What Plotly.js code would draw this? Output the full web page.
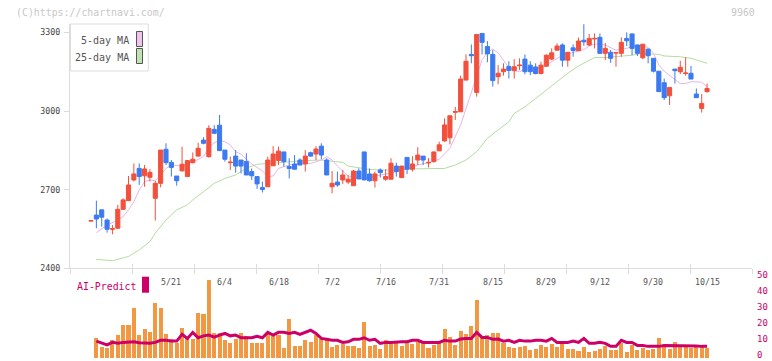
<!DOCTYPE html>
<html><head><meta charset="utf-8">
<script src="https://cdn.plot.ly/plotly-3.0.1.min.js"></script>
<style>html,body{margin:0;padding:0;background:#fff;}#chart{width:772px;height:361px;}</style>
</head><body><div id="chart"></div>
<script>
// ---- data (candle number 1..116, last = 10/15) ----
const openP = [
2580,2603,2623,2584,2549,2553,2625,2658,2737,2781,
2753,2747,2667,2724,2854,2804,2752,2772,2750,2803,
2828,2889,2826,2930,2946,2851,2803,2828,2813,2807,
2769,2750,2708,2711,2791,2811,2844,2788,2798,2813,
2798,2841,2836,2866,2813,2711,2729,2737,2729,2715,
2771,2844,2760,2734,2775,2740,2740,2790,2746,2823,
2778,2813,2828,2802,2807,2848,2886,2898,2995,2997,
3118,3216,3071,3296,3246,3216,3131,3150,3170,3154,
3173,3198,3175,3168,3143,3171,3198,3232,3252,3194,
3241,3230,3270,3252,3275,3281,3220,3224,3221,3220,
3277,3294,3252,3203,3236,3201,3152,3108,3058,3160,
3150,3143,3144,3065,3010,3074];
const highP = [
2583,2658,2623,2590,2565,2642,2667,2752,2800,2800,
2794,2778,2733,2851,2877,2813,2752,2864,2813,2842,
2879,2900,2946,2946,2985,2851,2826,2851,2813,2839,
2781,2750,2731,2826,2866,2864,2844,2820,2832,2820,
2851,2845,2866,2877,2820,2771,2769,2775,2756,2775,
2781,2844,2781,2769,2781,2778,2820,2803,2790,2823,
2828,2862,2828,2820,2844,2883,2972,2982,3016,3135,
3216,3254,3292,3296,3267,3232,3175,3182,3190,3198,
3201,3216,3190,3182,3188,3216,3239,3258,3258,3224,
3254,3280,3331,3294,3296,3296,3260,3233,3224,3281,
3300,3296,3252,3255,3239,3201,3152,3124,3090,3160,
3192,3205,3172,3086,3065,3105];
const lowP = [
2579,2553,2559,2536,2530,2549,2623,2658,2731,2718,
2711,2731,2582,2709,2794,2750,2715,2769,2750,2800,
2826,2873,2822,2912,2849,2807,2775,2765,2762,2756,
2737,2703,2689,2711,2791,2794,2788,2743,2778,2794,
2769,2826,2813,2816,2756,2686,2711,2722,2722,2715,
2741,2737,2731,2708,2746,2734,2740,2750,2746,2759,
2769,2794,2794,2785,2803,2848,2883,2873,2966,2997,
3118,3182,3055,3216,3186,3093,3102,3135,3124,3124,
3156,3140,3137,3140,3140,3169,3194,3232,3169,3169,
3207,3230,3249,3248,3239,3220,3194,3184,3169,3207,
3248,3213,3210,3198,3182,3147,3074,3042,3023,3105,
3141,3135,3122,3051,2994,3070];
const closeP = [
2582,2588,2595,2549,2551,2625,2661,2718,2760,2750,
2779,2766,2724,2851,2803,2785,2734,2797,2811,2816,
2858,2877,2934,2915,2849,2816,2805,2790,2790,2756,
2753,2722,2701,2813,2836,2847,2807,2781,2778,2794,
2828,2828,2855,2832,2756,2724,2718,2756,2740,2771,
2741,2737,2734,2760,2765,2750,2801,2769,2790,2778,
2798,2832,2813,2804,2844,2871,2947,2982,2998,3122,
3190,3211,3292,3262,3218,3116,3144,3160,3155,3169,
3175,3150,3150,3143,3175,3213,3222,3248,3194,3224,
3231,3267,3264,3277,3277,3220,3239,3201,3223,3262,
3268,3239,3220,3255,3211,3152,3074,3051,3090,3154,
3167,3145,3122,3051,3029,3086];
const volume = [
null,12.3,6.7,6.1,11.3,14.4,20.4,20.4,31.1,14.4,
17.9,16.1,34.8,31.1,14.8,11.7,9.2,18.6,12.3,11.7,
28.1,27.5,49.2,15.4,15.4,11.1,9.2,11.7,15.4,13.6,
9.2,9.2,9.2,14.8,13.6,14.4,6.1,24.2,7.3,7.3,
11.1,9.8,14.4,11.7,11.1,6.7,7.9,8.6,7.3,7.3,
6.1,22.9,7.3,7.9,5.4,11.1,8.6,9.2,7.3,9.2,
8.6,10.2,9.2,6.1,7.9,9.2,17.9,12.9,7.9,16.7,
14.8,19.8,36.7,12.9,14.2,15.4,15.4,9.2,6.7,6.1,
6.7,7.3,4.8,5.4,7.9,6.7,8.6,6.7,9.2,5.4,
5.4,4.2,6.7,3.6,4.2,5.4,7.3,4.8,4.8,9.2,
3.6,7.9,4.8,6.1,4.8,5.4,12.3,6.7,5.4,9.8,
6.7,6.7,6.1,6.7,6.7,6.1];
const aiPredict = [
null,10.6,9.2,8.2,9.8,9.2,9.8,10.2,10.2,9.6,
9.6,9.2,9.8,11.1,11.1,10.6,10.6,14.8,12.3,16.1,
12.7,13.9,14.4,13.1,14.4,15.4,13.9,14.4,12.7,12.9,
12.7,13.6,12.7,16.1,14.4,16.1,16.1,15.4,16.1,14.8,
16.1,17.4,15.4,12.3,11.7,11.1,11.1,9.8,10.2,11.7,
11.7,12.7,11.1,11.7,9.2,9.8,9.8,10.2,10.2,10.2,
11.1,11.1,9.8,9.8,9.8,9.8,11.1,10.6,10.6,11.9,
12.3,12.3,16.1,12.9,12.9,11.7,11.9,10.6,11.1,9.8,
11.1,10.6,10.6,11.1,11.1,10.6,12.3,9.8,9.8,9.8,
10.6,9.8,12.3,9.2,9.2,9.8,9.2,7.3,7.3,11.1,
9.8,9.8,7.9,7.9,7.3,7.3,7.3,7.9,7.9,7.9,
7.9,7.9,7.9,7.6,7.3,7.3];
// moving averages at these candle numbers
const ma5Day = [2,4,6,7,8,9,10,11,12,13, 14,15,16,18,20,22,23,24,25,26,
  27,28,29,31,33,34,35,36,38,40, 42,44,45,46,47,49,51,53,55,57,
  59,60,62,64,66,68,70,71,72,73, 74,75,76,77,78,79,80,81,82,84,
  85,86,87,89,90,91,93,94,95,97, 99,101,103,105,106,107,108,110,111,112,
  113,115,116];
const ma5Val = [2536,2565,2584,2597,2623,2654,2699,2731,2737,2734, 2756,2781,2794,2790,2805,2826,2861,2879,2887,2883,
  2870,2845,2835,2798,2772,2750,2752,2781,2794,2800, 2800,2813,2826,2813,2790,2752,2741,2746,2756,2763,
  2775,2780,2794,2803,2816,2858,2947,3010,3065,3135, 3195,3225,3236,3222,3195,3165,3155,3150,3160,3163,
  3163,3175,3188,3213,3218,3224,3234,3248,3256,3252, 3232,3239,3252,3243,3220,3175,3152,3120,3105,3105,
  3112,3110,3093];
const ma25Day = [2,5,8,10,12,13,15,17,19,20, 22,24,26,28,30,32,35,38,41,44,
  48,49,53,55,57,60,64,67,69,71, 73,75,77,79,80,82,84,86,88,90,
  92,94,95,97,99,102,104,107,108,111, 113,115,116];
const ma25Val = [2434,2429,2445,2470,2502,2534,2584,2623,2642,2661, 2692,2724,2743,2756,2782,2797,2801,2807,2811,2813,
  2804,2790,2777,2775,2775,2779,2780,2781,2794,2813, 2845,2896,2928,2959,2991,3016,3048,3080,3112,3144,
  3172,3194,3204,3204,3207,3213,3220,3216,3210,3207, 3201,3188,3182];
const dateTickDay = [16,26,36,46,56,66,76,86,96,106,116];
const dateTickText = ['5/21','6/4','6/18','7/2','7/16','7/31','8/15','8/29','9/12','9/30','10/15'];
const priceTicks = [2400,2700,3000,3300];
const aiTicks = [0,10,20,30,40,50];
const gridTicks = [0,1,2,3,4,5,6,7,8,9,10,11];

// ---- layout helpers ----
const W = 772, H = 361, ML = 70, MR = 20, MT = 24, MB = 3;
const PW = W - ML - MR, PH = H - MT - MB;
const fx = px => (px - ML) / PW;
const fy = py => (H - MB - py) / PH;
const days = closeP.map((_, i) => i + 1);
const xr = [1 - 21 / 5.357, 1 + 661 / 5.357];
const MONO = 'DejaVu Sans Mono, monospace';
const RED = '#f2503c', BLUE = '#3c7af0', ORANGE = '#f39842', MAG = '#cc0066';

const traces = [
  {type:'scatter', mode:'lines', x:ma25Day, y:ma25Val, xaxis:'x', yaxis:'y',
   line:{color:'#b4dca0', width:1}, hoverinfo:'skip'},
  {type:'scatter', mode:'lines', x:ma5Day, y:ma5Val, xaxis:'x', yaxis:'y',
   line:{color:'#e8b4e8', width:1}, hoverinfo:'skip'},
  {type:'candlestick', x:days, open:openP, high:highP, low:lowP, close:closeP,
   xaxis:'x', yaxis:'y3',
   increasing:{line:{color:RED, width:1}, fillcolor:RED},
   decreasing:{line:{color:BLUE, width:1}, fillcolor:BLUE}, hoverinfo:'skip'},
  {type:'bar', x:days, y:volume, xaxis:'x2', yaxis:'y2', width:0.75,
   marker:{color:ORANGE, line:{width:0}}, hoverinfo:'skip'},
  {type:'scatter', mode:'lines', x:days, y:aiPredict, xaxis:'x2', yaxis:'y2',
   line:{color:MAG, width:3}, hoverinfo:'skip'},
  {type:'scatter', x:[], y:[], xaxis:'x3', yaxis:'y'},
  {type:'scatter', x:[], y:[], xaxis:'x4', yaxis:'y'}
];

const annotations = [
  {text:'(C)https://chartnavi.com/', xref:'paper', yref:'paper', x:fx(14), y:fy(12.5),
   xanchor:'left', yanchor:'middle', showarrow:false, font:{family:MONO, size:9.9, color:'#c8c8c8'}},
  {text:'9960', xref:'paper', yref:'paper', x:fx(757), y:fy(12.5),
   xanchor:'right', yanchor:'middle', showarrow:false, font:{family:MONO, size:9.9, color:'#c8c8c8'}},
  {text:'5-day MA', xref:'paper', yref:'paper', x:fx(131), y:fy(40),
   xanchor:'right', yanchor:'middle', showarrow:false, font:{family:MONO, size:10, color:'#555'}},
  {text:'25-day MA', xref:'paper', yref:'paper', x:fx(131), y:fy(57.3),
   xanchor:'right', yanchor:'middle', showarrow:false, font:{family:MONO, size:10, color:'#555'}},
  {text:'AI-Predict', xref:'paper', yref:'paper', x:fx(75), y:fy(286),
   xanchor:'left', yanchor:'middle', showarrow:false, font:{family:MONO, size:9.9, color:MAG}}
];
dateTickDay.forEach((d, j) => annotations.push({
  text:dateTickText[j], xref:'x', yref:'paper', x:d, y:fy(282), xanchor:'center', yanchor:'middle',
  showarrow:false, font:{family:MONO, size:8.3, color:'#555'}}));

const shapes = [
  {type:'rect', xref:'paper', yref:'paper', x0:fx(70.5), x1:fx(148.3), y0:fy(71), y1:fy(24),
   line:{color:'#dddddd', width:1}, fillcolor:'rgba(255,255,255,0.9)'},
  {type:'rect', xref:'paper', yref:'paper', x0:fx(136.5), x1:fx(142.5), y0:fy(46.5), y1:fy(31.5),
   line:{color:'#555', width:1}, fillcolor:'#f0c4f0'},
  {type:'rect', xref:'paper', yref:'paper', x0:fx(136.5), x1:fx(142.5), y0:fy(63.5), y1:fy(48.5),
   line:{color:'#555', width:1}, fillcolor:'#c0e2b0'},
  {type:'rect', xref:'paper', yref:'paper', x0:fx(142), x1:fx(149), y0:fy(292.7), y1:fy(276.7),
   line:{width:0}, fillcolor:MAG}
];

const layout = {
  width:W, height:H, margin:{l:ML, r:MR, t:MT, b:MB, pad:0},
  paper_bgcolor:'#fff', plot_bgcolor:'rgba(0,0,0,0)', showlegend:false,
  boxgap:0.15, boxgroupgap:0.1, bargap:0,
  font:{family:MONO},
  xaxis:{domain:[0,1], range:xr, anchor:'y', showticklabels:false, ticks:'', showgrid:false,
    zeroline:false, showline:true, linecolor:'#dcdcdc', linewidth:1, rangeslider:{visible:false}, fixedrange:true},
  yaxis:{domain:[fy(268.3),1], range:[2400,3332], anchor:'x', tickvals:priceTicks,
    ticktext:priceTicks.map(String), ticks:'outside', ticklen:5, tickcolor:'#dcdcdc',
    showline:true, linecolor:'#dcdcdc', linewidth:1, showgrid:false, zeroline:false,
    tickfont:{family:MONO, size:8.3, color:'#444'}, ticklabelstandoff:2, fixedrange:true},
  yaxis3:{overlaying:'y', anchor:'x', range:[2400,3332], visible:false, fixedrange:true},
  xaxis2:{domain:[0,1], range:xr, anchor:'y2', visible:false, fixedrange:true},
  yaxis2:{domain:[0,fy(278)], range:[0,50.2], anchor:'x2', side:'right', tickvals:aiTicks,
    ticktext:aiTicks.map(String), ticks:'', showline:false, showgrid:false, zeroline:false,
    ticklabeloverflow:'allow', ticklabelshift:-3,
    tickfont:{family:MONO, size:9, color:MAG}, ticklabelstandoff:4, fixedrange:true},
  xaxis3:{overlaying:'x', anchor:'y', range:[0,11], tickvals:gridTicks, ticks:'outside', ticklen:5,
    tickcolor:'#dcdcdc', showticklabels:false, showgrid:false, zeroline:false, showline:false, fixedrange:true},
  xaxis4:{overlaying:'x', anchor:'y', range:[0,11], tickvals:gridTicks, ticks:'inside', ticklen:4,
    tickcolor:'#dcdcdc', showticklabels:false, showgrid:false, zeroline:false, showline:false, fixedrange:true},
  annotations:annotations, shapes:shapes
};

Plotly.newPlot('chart', traces, layout, {staticPlot:true, displayModeBar:false});
</script></body></html>
